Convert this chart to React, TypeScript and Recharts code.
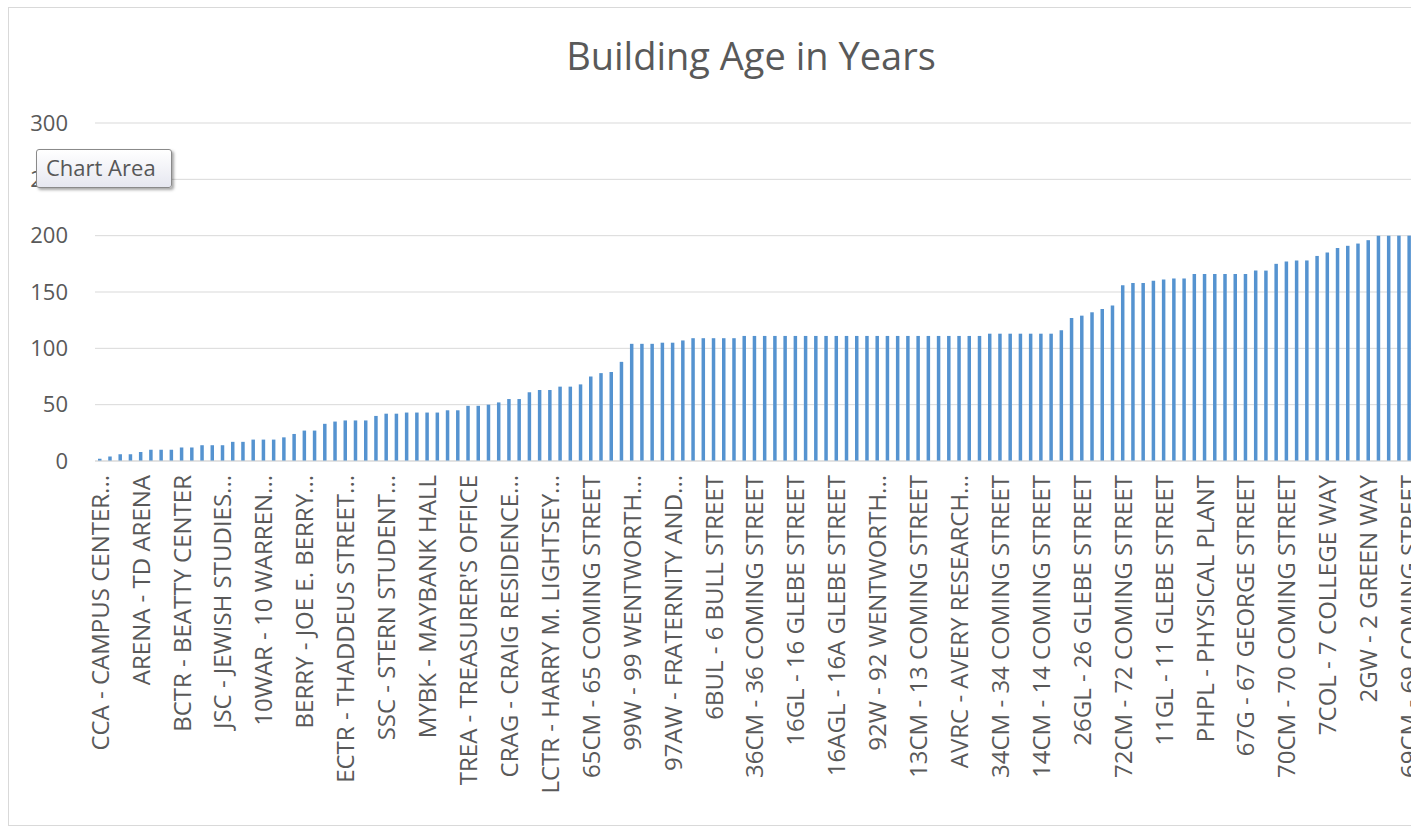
import React from "react";
import { BarChart, Bar, XAxis, YAxis, CartesianGrid } from "recharts";

// building labels shown on every 4th bar
const labels = [
  "CCA - CAMPUS CENTER...",
  "ARENA - TD ARENA",
  "BCTR - BEATTY CENTER",
  "JSC - JEWISH STUDIES...",
  "10WAR - 10 WARREN...",
  "BERRY - JOE E. BERRY...",
  "ECTR - THADDEUS STREET...",
  "SSC - STERN STUDENT...",
  "MYBK - MAYBANK HALL",
  "TREA - TREASURER'S OFFICE",
  "CRAG - CRAIG RESIDENCE...",
  "LCTR - HARRY M. LIGHTSEY...",
  "65CM - 65 COMING STREET",
  "99W - 99 WENTWORTH...",
  "97AW - FRATERNITY AND...",
  "6BUL - 6 BULL STREET",
  "36CM - 36 COMING STREET",
  "16GL - 16 GLEBE STREET",
  "16AGL - 16A GLEBE STREET",
  "92W - 92 WENTWORTH...",
  "13CM - 13 COMING STREET",
  "AVRC - AVERY RESEARCH...",
  "34CM - 34 COMING STREET",
  "14CM - 14 COMING STREET",
  "26GL - 26 GLEBE STREET",
  "72CM - 72 COMING STREET",
  "11GL - 11 GLEBE STREET",
  "PHPL - PHYSICAL PLANT",
  "67G - 67 GEORGE STREET",
  "70CM - 70 COMING STREET",
  "7COL - 7 COLLEGE WAY",
  "2GW - 2 GREEN WAY",
  "69CM - 69 COMING STREET",
];

// age in years, one per building (last few run off the right edge)
const ages = [
  2, 4, 6, 6, 8, 10, 10, 10, 12, 12, 14, 14, 14, 17, 17, 19, 19, 19, 21, 24,
  27, 27, 33, 35, 36, 36, 36, 40, 42, 42, 43, 43, 43, 43, 45, 45, 49, 49, 50, 52,
  55, 55, 61, 63, 63, 66, 66, 68, 75, 78, 79, 88, 104, 104, 104, 105, 105, 107, 109, 109,
  109, 109, 109, 111, 111, 111, 111, 111, 111, 111, 111, 111, 111, 111, 111, 111, 111, 111,
  111, 111, 111, 111, 111, 111, 111, 111, 111, 113, 113, 113, 113, 113, 113, 113, 116, 127,
  129, 132, 135, 138, 156, 158, 158, 160, 161, 162, 162, 166, 166, 166, 166, 166, 166, 169,
  169, 175, 177, 178, 178, 182, 185, 189, 191, 193, 196, 200, 200, 200, 200, 202, 206, 214,
  226, 241, 258,
];

const yTicks = [0, 50, 100, 150, 200, 250, 300];

const data = ages.map((age, i) => ({
  name: i % 4 === 0 ? labels[i / 4] ?? "" : "",
  age,
}));

const FONT = "'Open Sans', 'Noto Sans', sans-serif";
const GREY = "#595959";

const XTick = (props: any) => {
  const { x, y, payload } = props;
  if (!payload.value) return null;
  return (
    <text
      x={x}
      y={y}
      dy="0.36em"
      textAnchor="end"
      transform={`rotate(-90, ${x}, ${y})`}
      fill={GREY}
      fontSize={24}
      fontFamily={FONT}
    >
      {payload.value}
    </text>
  );
};

export default function App() {
  return (
    <div
      style={{
        position: "fixed",
        left: 0,
        top: 0,
        width: 1411,
        height: 827,
        overflow: "hidden",
        background: "#fff",
      }}
    >
      <div
        style={{
          position: "absolute",
          left: 8,
          top: 7,
          width: 1486,
          height: 819,
          border: "1px solid #D9D9D9",
          boxSizing: "border-box",
        }}
      >
        <div
          style={{
            position: "absolute",
            left: 0,
            right: 0,
            top: 28,
            textAlign: "center",
            fontFamily: FONT,
            fontSize: 38,
            lineHeight: "38px",
            color: GREY,
          }}
        >
          Building Age in Years
        </div>
        <BarChart
          width={1484}
          height={817}
          data={data}
          margin={{ top: 115, right: 17, bottom: 20, left: 0 }}
          barCategoryGap={0}
        >
          <CartesianGrid vertical={false} stroke="#D9D9D9" />
          <XAxis
            dataKey="name"
            interval={3}
            height={344}
            tickLine={false}
            tickSize={0}
            tickMargin={14}
            axisLine={{ stroke: "#D9D9D9" }}
            tick={<XTick />}
          />
          <YAxis
            width={86}
            domain={[0, 300]}
            ticks={yTicks}
            axisLine={false}
            tickLine={false}
            tickSize={0}
            tickMargin={27}
            tick={{ fill: GREY, fontSize: 22, fontFamily: FONT }}
          />
          <Bar dataKey="age" fill="#5593D0" barSize={3.5} isAnimationActive={false} />
        </BarChart>
      </div>
      <div
        style={{
          position: "absolute",
          left: 36,
          top: 149,
          width: 136,
          height: 39,
          boxSizing: "border-box",
          border: "1px solid #8A8A8A",
          borderRadius: 3,
          background: "linear-gradient(#FFFFFF, #E6E7F0)",
          boxShadow: "2px 2px 3px rgba(0,0,0,0.35)",
          fontFamily: FONT,
          fontSize: 22,
          lineHeight: "35px",
          paddingLeft: 9,
          color: "#575757",
          whiteSpace: "nowrap",
        }}
      >
        Chart Area
      </div>
    </div>
  );
}
